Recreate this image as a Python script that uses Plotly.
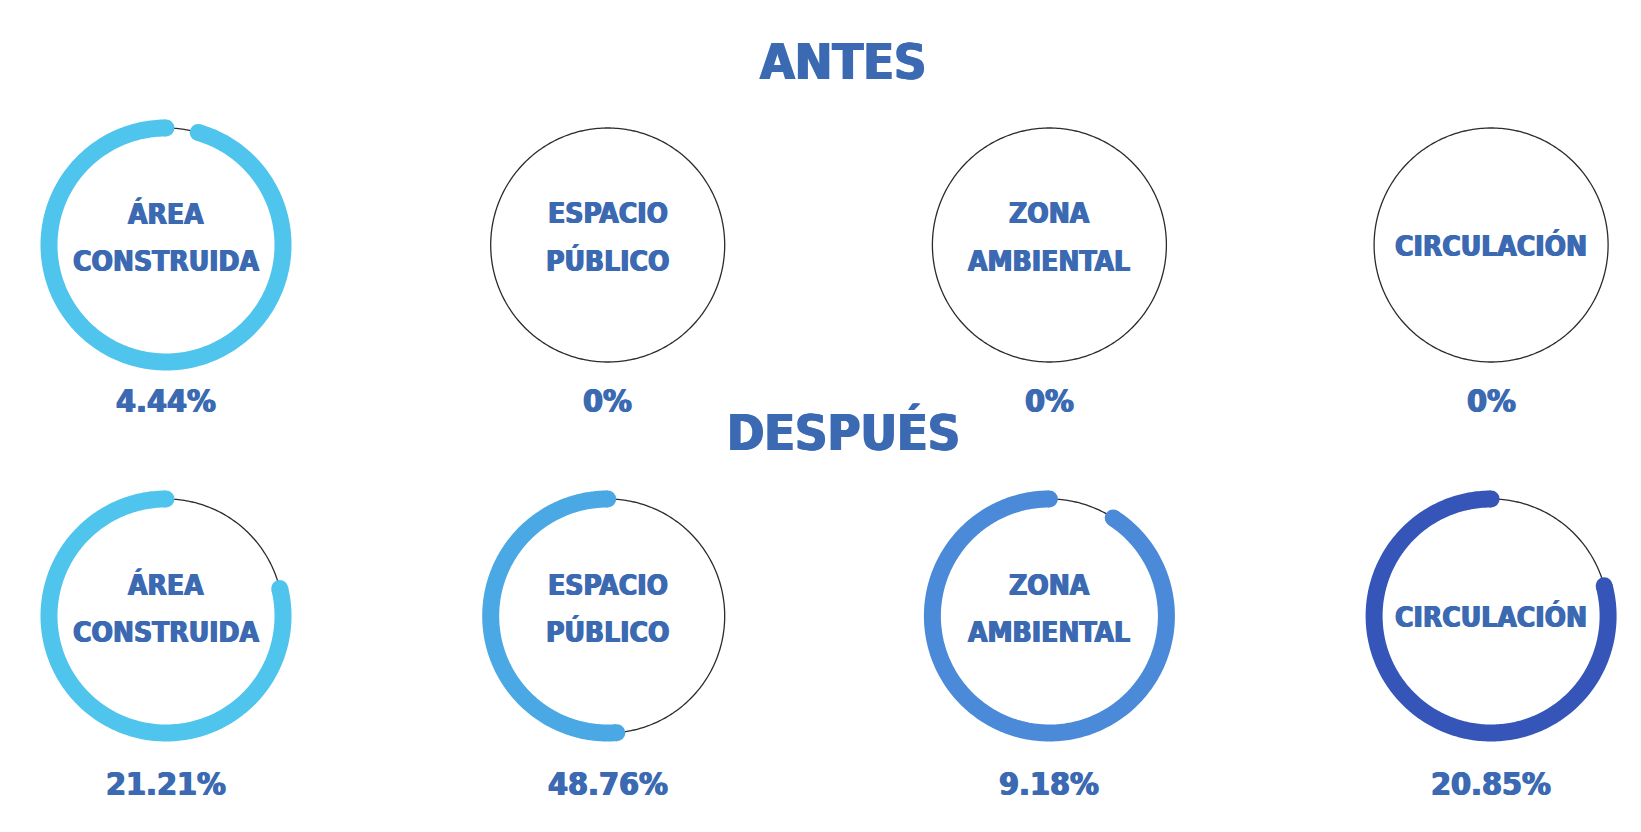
import numpy as np
import plotly.graph_objects as go

# --- data -------------------------------------------------------------
categories = ["ÁREA<br>CONSTRUIDA", "ESPACIO<br>PÚBLICO", "ZONA<br>AMBIENTAL", "CIRCULACIÓN"]
antes = [4.44, 0, 0, 0]                # % before
despues = [21.21, 48.76, 9.18, 20.85]  # % after
row_titles = ["ANTES", "DESPUÉS"]

# --- styling ----------------------------------------------------------
ring_colors = ["#4fc4ec", "#4aa8e4", "#4b8ad9", "#3555b8"]
text_color = "#3b6ab3"
font_family = "Liberation Sans Narrow, DejaVu Sans Condensed, Arial Narrow, sans-serif"
heavy = f"0.7px 0 0 {text_color}, -0.7px 0 0 {text_color}"  # extra weight for the bold labels

W, H = 1641, 832
R = 117            # ring radius in px
STROKE = 17        # ring thickness in px
RMAX = 1.15        # radial axis range -> ring drawn at r = 1
col_x = [166 + 441.7 * i for i in range(4)]
row_y = [245, 616]
pct_y = [401, 784]
title_y = [62, 432]
line_offsets = {1: [1], 2: [-31, 16]}   # vertical offsets of label lines from ring centre

fig = go.Figure()
annotations = []


def px_to_paper_x(x):
    return x / W


def px_to_paper_y(y):
    return 1 - y / H


def label(x, y, text, size, shadow=heavy):
    return dict(
        x=px_to_paper_x(x), y=px_to_paper_y(y), xref="paper", yref="paper",
        text=text, showarrow=False, xanchor="center", yanchor="middle",
        font=dict(family=font_family, size=size, color=text_color, weight="bold",
                  shadow=shadow),
    )


k = 0
for r_i, values in enumerate([antes, despues]):
    for c_i, (cat, v) in enumerate(zip(categories, values)):
        k += 1
        pid = "polar" if k == 1 else f"polar{k}"
        cx, cy = col_x[c_i], row_y[r_i]
        half = R * RMAX
        fig.update_layout({
            pid: dict(
                domain=dict(
                    x=[px_to_paper_x(cx - half), px_to_paper_x(cx + half)],
                    y=[px_to_paper_y(cy + half), px_to_paper_y(cy - half)],
                ),
                bgcolor="rgba(0,0,0,0)",
                radialaxis=dict(range=[0, RMAX], visible=False),
                angularaxis=dict(visible=False, direction="clockwise", rotation=90,
                                 showgrid=False, showline=False),
            )
        })
        # thin full circle
        theta_full = np.linspace(0, 360, 361)
        fig.add_trace(go.Scatterpolar(
            r=np.ones_like(theta_full), theta=theta_full, mode="lines",
            line=dict(color="#2b2b2b", width=1.3),
            subplot=pid, showlegend=False, hoverinfo="skip",
        ))
        # thick arc: the share not covered by the value, from value*3.6° to 360°
        if v > 0:
            t0 = v * 3.6
            theta_arc = np.linspace(t0, 360, 300)
            fig.add_trace(go.Scatterpolar(
                r=np.ones_like(theta_arc), theta=theta_arc, mode="lines",
                line=dict(color=ring_colors[c_i], width=STROKE),
                subplot=pid, showlegend=False, hoverinfo="skip",
            ))
            # rounded caps
            fig.add_trace(go.Scatterpolar(
                r=[1, 1], theta=[t0, 360], mode="markers",
                marker=dict(color=ring_colors[c_i], size=STROKE, line=dict(width=0)),
                subplot=pid, showlegend=False, hoverinfo="skip",
            ))
        # category label inside the ring, one annotation per line
        lines = cat.split("<br>")
        for ln, off in zip(lines, line_offsets[len(lines)]):
            annotations.append(label(cx, cy + off, ln, 28))
        # percentage under the ring
        annotations.append(label(cx, pct_y[r_i], f"{v:g}%", 32))

for t, ty, fs in zip(row_titles, title_y, [50, 50]):
    annotations.append(label(843, ty, t, fs,
                             shadow=f"1px 0 0 {text_color}, -1px 0 0 {text_color}"))

fig.update_layout(
    width=W, height=H,
    margin=dict(l=0, r=0, t=0, b=0),
    paper_bgcolor="white", plot_bgcolor="white",
    annotations=annotations,
    showlegend=False,
)

fig.write_html("out.html", config={"displayModeBar": False})
